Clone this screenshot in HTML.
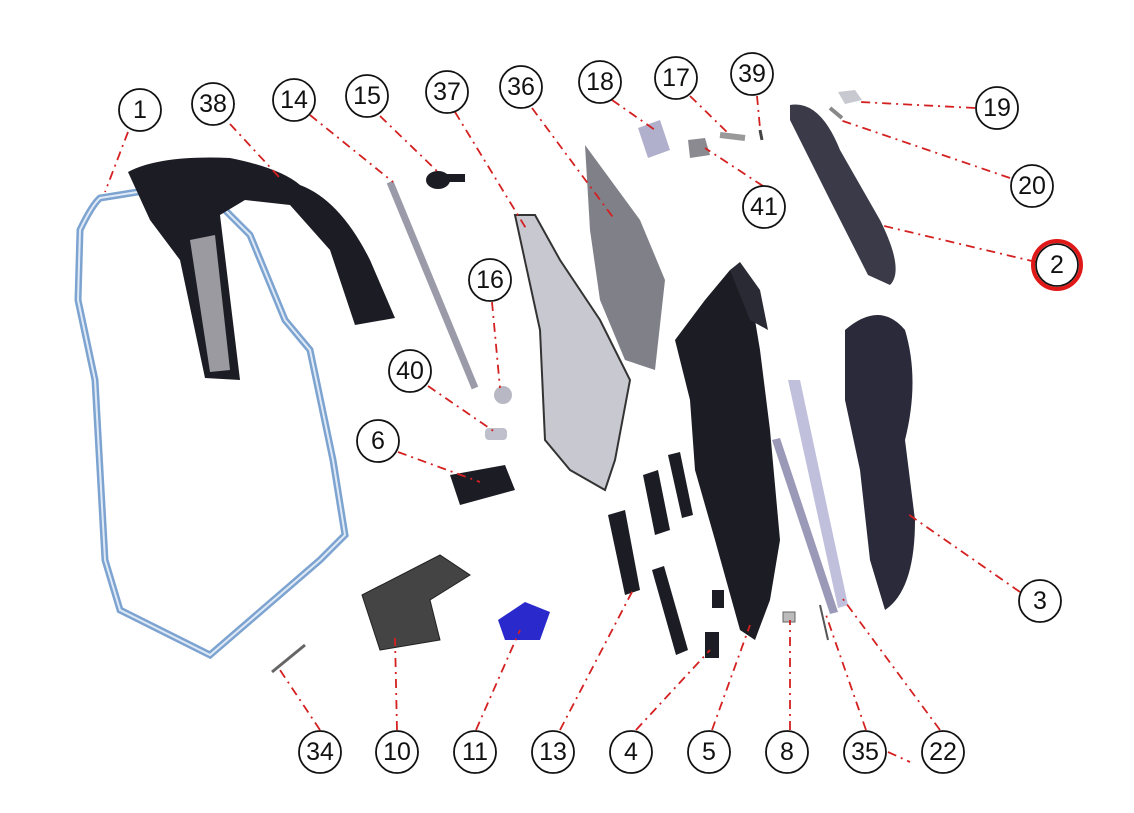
<!DOCTYPE html>
<html><head><style>
body{margin:0;background:#fff;width:1134px;height:808px;overflow:hidden}
svg text{font-family:"Liberation Sans",sans-serif;font-size:25px;text-anchor:middle;dominant-baseline:central;fill:#111}
.c{fill:#fff;stroke:#111;stroke-width:1.8}
.l{stroke:#d42020;stroke-width:1.8;stroke-dasharray:9 5 2 5;fill:none}
.d{fill:#1c1c24}
</style></head><body>
<svg width="1134" height="808" viewBox="0 0 1134 808">
<!-- frame (1) -->
<path d="M100,198 Q92,205 80,230 L78,300 L95,380 L100,470 L105,560 L120,610 L210,655 L320,560 L345,535 L333,460 L310,350 L285,320 L250,235 L220,205 L150,190 Z" fill="none" stroke="#7da3d0" stroke-width="7"/>
<path d="M100,198 Q92,205 80,230 L78,300 L95,380 L100,470 L105,560 L120,610 L210,655 L320,560 L345,535 L333,460 L310,350 L285,320 L250,235 L220,205 L150,190 Z" fill="none" stroke="#dfeaf6" stroke-width="2"/>
<!-- 38 -->
<path d="M128,172 Q160,155 230,158 Q280,168 300,185 Q340,200 370,260 L395,318 L355,325 L330,250 L290,205 L245,200 L220,215 L240,380 L205,378 L180,260 L150,220 Z" class="d"/>
<path d="M190,240 L215,235 L230,370 L210,372 Z" fill="#9a9aa0"/>
<!-- 14 strut -->
<path d="M390,182 L475,388" stroke="#9a9aa8" stroke-width="7"/>
<!-- 15 -->
<ellipse cx="438" cy="180" rx="12" ry="9" class="d"/><rect x="445" y="174" width="20" height="8" class="d"/>
<!-- 16, 40 -->
<circle cx="503" cy="395" r="9" fill="#b8b8c4"/>
<rect x="485" y="428" width="22" height="12" rx="4" fill="#c0c0cc"/>
<!-- 6 -->
<path d="M450,475 L505,465 L515,490 L460,505 Z" class="d"/>
<!-- 37 -->
<path d="M515,215 L535,215 L560,260 L600,320 L630,380 L615,460 L605,490 L570,470 L545,440 L540,330 Z" fill="#c8c8d0" stroke="#333" stroke-width="2"/>
<!-- 36 -->
<path d="M585,145 L640,220 L665,280 L655,370 L625,360 L600,300 L590,230 Z" fill="#808088"/>
<!-- 18, 17, 41, 39 -->
<path d="M638,128 L660,120 L670,150 L648,158 Z" fill="#b0b0cc"/>
<path d="M720,135 L745,138" stroke="#999" stroke-width="6"/>
<path d="M688,140 L705,138 L710,155 L690,158 Z" fill="#8a8a90"/>
<path d="M760,130 L762,140" stroke="#444" stroke-width="3"/>
<!-- 5 -->
<path d="M675,340 L705,300 L730,270 L750,290 L760,350 L770,430 L780,540 L770,600 L755,640 L740,630 L715,540 L695,470 L690,400 Z" class="d"/>
<path d="M730,270 L740,262 L760,290 L768,330 L750,320 Z" fill="#2a2a34"/>
<!-- 13, 4 -->
<path d="M608,515 L625,510 L640,590 L625,595 Z" class="d"/>
<path d="M643,475 L658,470 L670,530 L655,535 Z" class="d"/>
<path d="M668,455 L680,452 L693,515 L682,518 Z" class="d"/>
<path d="M652,570 L664,566 L688,650 L676,655 Z" class="d"/>
<rect x="712" y="590" width="12" height="18" class="d"/>
<rect x="705" y="632" width="14" height="26" class="d"/>
<!-- 22, 35, 8 -->
<path d="M788,380 L800,380 L848,605 L838,608 Z" fill="#c0c0dc"/>
<path d="M772,440 L780,438 L838,612 L830,614 Z" fill="#9a9ab8"/>
<rect x="783" y="612" width="12" height="10" fill="#bbb" stroke="#666"/>
<path d="M820,605 L828,640" stroke="#555" stroke-width="2"/>
<!-- 2 -->
<path d="M790,105 Q820,100 840,150 L880,220 Q905,270 890,285 L868,275 L830,200 L790,120 Z" fill="#3a3a48"/>
<path d="M838,92 L855,90 L862,100 L845,104 Z" fill="#c8c8d0"/>
<path d="M830,108 L842,118" stroke="#888" stroke-width="4"/>
<!-- 3 -->
<path d="M845,330 Q880,300 905,330 Q920,380 905,440 L915,520 Q915,590 885,610 L870,560 L860,470 L845,400 Z" fill="#2a2a3a"/>
<!-- 10 -->
<path d="M362,595 L440,555 L470,575 L430,600 L440,640 L380,650 Z" fill="#444" stroke="#222"/>
<!-- 11 -->
<path d="M498,620 L525,602 L550,612 L540,640 L505,640 Z" fill="#2a2acc"/>
<!-- 34 -->
<path d="M272,672 L305,645" stroke="#666" stroke-width="3"/>
<!-- leader lines -->
<g class="l">
<path d="M128,132 L105,192"/><path d="M230,124 L280,178"/><path d="M310,115 L393,182"/>
<path d="M380,116 L438,172"/><path d="M455,112 L527,230"/><path d="M532,108 L615,220"/>
<path d="M612,100 L655,130"/><path d="M690,96 L730,135"/><path d="M757,96 L760,128"/>
<path d="M975,108 L860,102"/><path d="M1010,178 L840,120"/><path d="M763,186 L705,148"/>
<path d="M1036,262 L880,225"/><path d="M492,302 L500,388"/><path d="M428,386 L495,432"/>
<path d="M398,452 L480,482"/><path d="M1020,592 L905,512"/>
<path d="M320,730 L280,670"/><path d="M397,730 L395,638"/><path d="M476,730 L520,630"/>
<path d="M560,730 L633,590"/><path d="M636,730 L710,650"/><path d="M712,730 L750,625"/>
<path d="M790,730 L790,620"/><path d="M866,730 L825,612"/><path d="M940,730 L840,595"/>
<path d="M888,752 L910,762"/>
</g>
<!-- labels -->
<g>
<circle class="c" cx="140" cy="110" r="21"/><text x="140" y="110">1</text>
<circle class="c" cx="213" cy="104" r="21"/><text x="213" y="104">38</text>
<circle class="c" cx="294" cy="100" r="21"/><text x="294" y="100">14</text>
<circle class="c" cx="367" cy="96" r="21"/><text x="367" y="96">15</text>
<circle class="c" cx="447" cy="92" r="21"/><text x="447" y="92">37</text>
<circle class="c" cx="521" cy="87" r="21"/><text x="521" y="87">36</text>
<circle class="c" cx="600" cy="82" r="21"/><text x="600" y="82">18</text>
<circle class="c" cx="676" cy="78" r="21"/><text x="676" y="78">17</text>
<circle class="c" cx="752" cy="74" r="21"/><text x="752" y="74">39</text>
<circle class="c" cx="997" cy="108" r="21"/><text x="997" y="108">19</text>
<circle class="c" cx="1032" cy="186" r="21"/><text x="1032" y="186">20</text>
<circle class="c" cx="764" cy="207" r="21"/><text x="764" y="207">41</text>
<circle class="c" cx="1057" cy="265" r="21"/><text x="1057" y="265">2</text>
<circle cx="1057" cy="265" r="24" fill="none" stroke="#e01818" stroke-width="4"/>
<circle class="c" cx="490" cy="280" r="21"/><text x="490" y="280">16</text>
<circle class="c" cx="410" cy="371" r="21"/><text x="410" y="371">40</text>
<circle class="c" cx="378" cy="441" r="21"/><text x="378" y="441">6</text>
<circle class="c" cx="1040" cy="601" r="21"/><text x="1040" y="601">3</text>
<circle class="c" cx="320" cy="752" r="21"/><text x="320" y="752">34</text>
<circle class="c" cx="397" cy="752" r="21"/><text x="397" y="752">10</text>
<circle class="c" cx="475" cy="752" r="21"/><text x="475" y="752">11</text>
<circle class="c" cx="553" cy="752" r="21"/><text x="553" y="752">13</text>
<circle class="c" cx="631" cy="752" r="21"/><text x="631" y="752">4</text>
<circle class="c" cx="709" cy="752" r="21"/><text x="709" y="752">5</text>
<circle class="c" cx="787" cy="752" r="21"/><text x="787" y="752">8</text>
<circle class="c" cx="865" cy="752" r="21"/><text x="865" y="752">35</text>
<circle class="c" cx="943" cy="752" r="21"/><text x="943" y="752">22</text>
</g>
</svg>
</body></html>
